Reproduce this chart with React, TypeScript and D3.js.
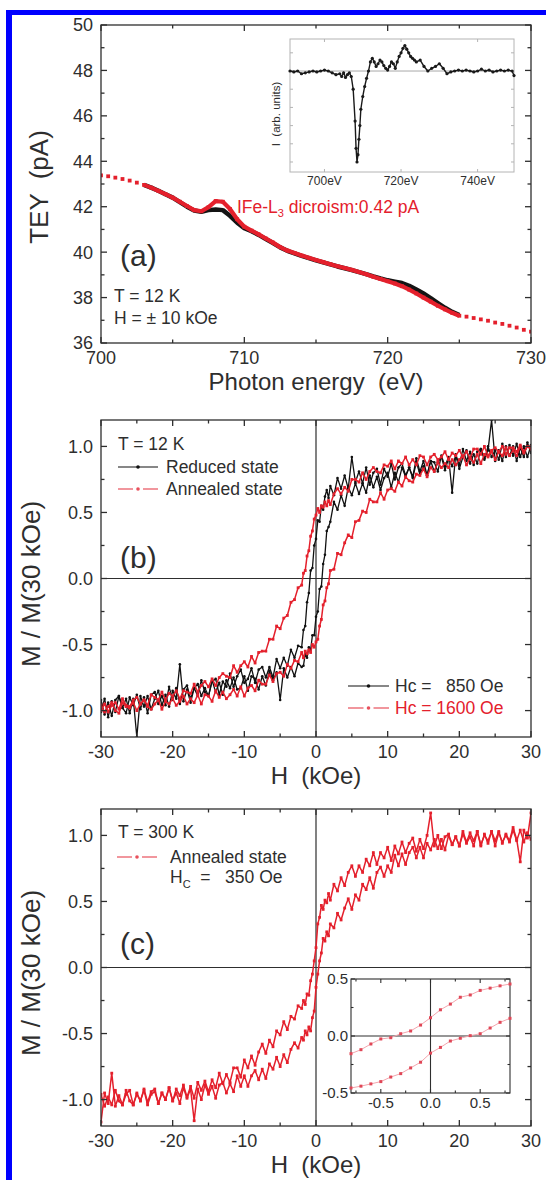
import React from 'react';
import * as d3 from 'd3';

const FONT = '"Liberation Sans", Arial, Helvetica, sans-serif';
const INK = '#2e2e2e';
const RED = '#e4202c';

// ---- panel (a): TEY vs photon energy ----
const energyRed = [700,700.5,701,701.5,702,702.5,703,703.5,704,704.5,705,705.5,706,706.5,707,707.5,708,708.5,709,709.5,710,710.5,711,711.5,712,712.5,713,713.5,714,714.5,715,715.5,716,716.5,717,717.5,718,718.5,719,719.5,720,720.5,721,721.5,722,722.5,723,723.5,724,724.5,725,725.5,726,726.5,727,727.5,728,728.5,729,729.5,730];
const teyRed = [43.38,43.34,43.28,43.22,43.15,43.06,42.96,42.84,42.7,42.55,42.4,42.22,42.03,41.85,41.8,41.98,42.25,42.22,41.9,41.45,41.12,40.95,40.78,40.6,40.42,40.22,40.07,39.96,39.85,39.75,39.65,39.56,39.47,39.38,39.3,39.22,39.13,39.03,38.92,38.82,38.72,38.62,38.5,38.35,38.18,38.0,37.82,37.64,37.48,37.33,37.2,37.16,37.1,37.04,36.98,36.9,36.84,36.76,36.68,36.58,36.5];
const energyBlack = [703,703.5,704,704.5,705,705.5,706,706.5,707,707.5,708,708.5,709,709.5,710,710.5,711,711.5,712,712.5,713,713.5,714,714.5,715,715.5,716,716.5,717,717.5,718,718.5,719,719.5,720,720.5,721,721.5,722,722.5,723,723.5,724,724.5,725];
const teyBlack = [42.96,42.84,42.7,42.55,42.4,42.2,42.0,41.83,41.78,41.85,41.88,41.85,41.6,41.3,41.05,40.92,40.76,40.58,40.4,40.21,40.06,39.95,39.84,39.74,39.64,39.55,39.46,39.37,39.29,39.21,39.12,39.03,38.93,38.84,38.76,38.7,38.64,38.52,38.36,38.18,37.98,37.76,37.55,37.37,37.23];

// inset of (a): dichroism difference
const insetEnergy = [691,692,693,694,695,696,697,698,699,700,701,702,703,704,704.5,705,705.5,706,706.5,707,707.5,708,708.25,708.5,708.75,709,709.25,709.5,710,710.5,711,711.5,712,712.5,713,713.5,714,714.5,715,715.5,716,716.5,717,717.5,718,718.5,719,719.5,720,720.5,721,721.5,722,722.5,723,723.5,724,725,726,727,728,729,730,731,732,733,734,735,736,737,738,739,740,741,742,743,744,745,746,747,748,749,749.5];
const insetSignal = [0,-0.01,0,-0.03,-0.02,-0.01,0,-0.01,0,0.01,0,-0.02,-0.04,-0.03,-0.06,-0.02,-0.07,-0.04,-0.02,-0.06,-0.2,-0.55,-0.85,-1,-0.92,-0.75,-0.6,-0.42,-0.28,-0.17,-0.08,0,0.1,0.14,0.1,0.05,0.08,0.12,0.1,0.06,0.03,0.01,0.05,0.1,0.08,0.03,0.1,0.16,0.2,0.25,0.28,0.24,0.2,0.16,0.14,0.12,0.1,0.12,0.05,0,0.03,0.05,0.08,0.03,-0.03,-0.01,0,0.01,0,0.01,0,-0.01,0,0.02,0,0.01,-0.01,0,0.01,0,0.01,0,-0.05];
const insetEnergyTicks = [700, 720, 740];

// ---- panels (b), (c): hysteresis loops, field in kOe ----
const field = [-30,-29.5,-29,-28.5,-28,-27.5,-27,-26.5,-26,-25.5,-25,-24.5,-24,-23.5,-23,-22.5,-22,-21.5,-21,-20.5,-20,-19.5,-19,-18.5,-18,-17.5,-17,-16.5,-16,-15.5,-15,-14.5,-14,-13.5,-13,-12.5,-12,-11.5,-11,-10.5,-10,-9.5,-9,-8.5,-8,-7.5,-7,-6.5,-6,-5.5,-5,-4.5,-4,-3.5,-3,-2.5,-2,-1.75,-1.5,-1.25,-1,-0.75,-0.5,-0.25,0,0.25,0.5,0.75,1,1.25,1.5,1.75,2,2.5,3,3.5,4,4.5,5,5.5,6,6.5,7,7.5,8,8.5,9,9.5,10,10.5,11,11.5,12,12.5,13,13.5,14,14.5,15,15.5,16,16.5,17,17.5,18,18.5,19,19.5,20,20.5,21,21.5,22,22.5,23,23.5,24,24.5,25,25.5,26,26.5,27,27.5,28,28.5,29,29.5,30];

const reducedDown = [-0.92,-1.03,-0.94,-1.04,-0.92,-0.89,-0.98,-1.02,-0.9,-0.96,-0.88,-0.99,-0.9,-1.02,-0.88,-0.86,-0.95,-0.89,-0.96,-0.82,-0.92,-0.83,-0.95,-0.84,-0.81,-0.91,-0.83,-0.89,-0.77,-0.86,-0.89,-0.78,-0.76,-0.88,-0.78,-0.82,-0.72,-0.82,-0.74,-0.69,-0.79,-0.76,-0.68,-0.79,-0.69,-0.67,-0.75,-0.67,-0.75,-0.61,-0.68,-0.6,-0.66,-0.54,-0.6,-0.51,-0.52,
  -0.39,-0.36,-0.18,-0.11,0.06,0.08,0.25,0.3,0.44,0.43,0.55,0.52,0.62,0.67,0.61,
  0.7,0.63,0.76,0.68,0.78,0.68,0.92,0.73,0.81,0.72,0.84,0.71,0.8,0.83,0.71,0.83,0.77,0.87,0.75,0.84,0.87,0.78,0.84,0.77,0.91,0.81,0.89,0.78,0.89,0.88,0.81,0.93,0.85,0.92,0.65,0.94,0.86,0.98,0.89,0.96,0.86,0.96,0.98,0.9,1.0,0.92,0.97,0.9,1.02,0.92,1.01,0.93,1.02,0.92,1.0,0.92,1.01];
const reducedUp = [-1.01,-0.91,-1.05,-0.93,-1.01,-0.89,-0.98,-0.91,-1.02,-0.91,-1.2,-0.89,-0.97,-0.89,-0.99,-0.91,-0.85,-0.96,-0.88,-0.97,-0.85,-0.91,-0.65,-0.93,-0.84,-0.94,-0.83,-0.8,-0.89,-0.83,-0.89,-0.77,-0.86,-0.79,-0.88,-0.77,-0.83,-0.75,-0.84,-0.83,-0.74,-0.85,-0.74,-0.76,-0.84,-0.74,-0.81,-0.7,-0.77,-0.71,-0.92,-0.68,-0.75,-0.67,-0.74,-0.64,-0.67,
  -0.66,-0.57,-0.6,-0.52,-0.54,-0.43,-0.43,-0.29,-0.25,-0.08,-0.06,0.11,0.18,0.36,0.39,
  0.43,0.58,0.52,0.63,0.55,0.69,0.63,0.72,0.64,0.72,0.65,0.78,0.69,0.77,0.67,0.76,0.8,0.69,0.8,0.73,0.84,0.77,0.84,0.76,0.88,0.79,0.85,0.78,0.89,0.81,0.88,0.92,0.82,0.91,0.85,0.93,0.83,0.92,0.97,0.87,0.94,0.87,0.98,0.91,0.97,1.2,0.89,0.97,0.89,1.0,0.93,1.0,0.89,0.99,0.92,1.03,0.95];
const annealedDown12K = [-1.0,-0.95,-1.01,-0.96,-0.94,-0.99,-0.91,-0.96,-0.97,-0.92,-0.9,-0.95,-0.92,-0.96,-0.88,-0.9,-0.92,-0.86,-0.92,-0.87,-0.89,-0.85,-0.91,-0.85,-0.86,-0.87,-0.8,-0.86,-0.81,-0.78,-0.82,-0.76,-0.81,-0.75,-0.72,-0.74,-0.75,-0.66,-0.71,-0.66,-0.63,-0.67,-0.59,-0.64,-0.56,-0.55,-0.55,-0.46,-0.46,-0.36,-0.38,-0.3,-0.28,-0.18,-0.16,-0.07,-0.05,
  0.04,0.06,0.17,0.21,0.32,0.36,0.45,0.48,0.53,0.5,0.55,0.54,0.58,0.55,0.59,
  0.56,0.64,0.68,0.64,0.69,0.66,0.75,0.75,0.73,0.8,0.75,0.81,0.84,0.81,0.8,0.86,0.85,0.89,0.83,0.89,0.87,0.92,0.86,0.9,0.86,0.93,0.92,0.86,0.92,0.94,0.9,0.92,0.96,0.9,0.95,0.93,0.97,0.92,0.96,0.91,0.98,0.98,0.94,1.0,0.93,0.97,0.99,0.96,1.0,0.94,0.99,0.99,0.96,1.01,0.96,1.0,1.0];
const annealedUp12K = [-0.96,-1.01,-0.97,-0.94,-1.0,-1.02,-0.94,-0.97,-0.98,-0.94,-1.0,-0.95,-0.92,-0.97,-0.99,-0.95,-0.92,-0.99,-0.93,-0.95,-0.91,-0.96,-0.93,-0.89,-0.95,-0.91,-0.94,-0.88,-0.95,-0.88,-0.89,-0.93,-0.85,-0.9,-0.86,-0.91,-0.88,-0.84,-0.89,-0.82,-0.89,-0.83,-0.81,-0.85,-0.77,-0.8,-0.8,-0.73,-0.78,-0.72,-0.71,-0.74,-0.65,-0.68,-0.62,-0.63,-0.56,
  -0.6,-0.55,-0.57,-0.54,-0.56,-0.5,-0.52,-0.48,-0.46,-0.36,-0.31,-0.2,-0.17,-0.07,-0.04,
  0.06,0.07,0.19,0.18,0.27,0.33,0.31,0.43,0.44,0.51,0.5,0.6,0.58,0.58,0.65,0.6,0.67,0.68,0.66,0.73,0.7,0.77,0.74,0.73,0.79,0.78,0.83,0.77,0.84,0.81,0.88,0.84,0.87,0.84,0.9,0.86,0.9,0.93,0.86,0.91,0.88,0.94,0.87,0.94,0.92,0.96,0.9,0.96,0.93,0.99,0.93,0.97,0.93,1.0,0.95,1.0,0.98];
const annealedDown300K = [-0.96,-1.05,-0.98,-1.04,-0.93,-1.01,-1.04,-0.96,-0.93,-1.04,-0.96,-1.01,-0.92,-1.02,-0.94,-0.92,-1.03,-0.95,-1.0,-0.91,-1.01,-0.92,-0.97,-0.89,-0.98,-0.9,-0.99,-0.87,-0.93,-0.86,-0.94,-0.85,-0.91,-0.8,-0.88,-0.81,-0.87,-0.76,-0.76,-0.83,-0.7,-0.76,-0.67,-0.74,-0.64,-0.58,-0.65,-0.55,-0.6,-0.48,-0.51,-0.41,-0.47,-0.37,-0.39,-0.29,-0.31,
  -0.25,-0.28,-0.2,-0.21,-0.1,-0.05,0.05,0.15,0.33,0.38,0.47,0.44,0.51,0.49,0.56,
  0.51,0.63,0.58,0.68,0.62,0.72,0.77,0.69,0.77,0.72,0.82,0.77,0.87,0.78,0.87,0.83,0.91,0.81,0.92,0.86,0.95,0.87,0.94,0.98,0.88,0.97,0.9,1.0,1.17,0.92,1.0,0.9,0.99,1.01,0.93,0.99,0.92,1.03,0.95,1.02,0.96,1.03,0.92,1.01,0.94,1.03,0.96,1.03,0.94,1.01,0.96,1.06,0.97,0.8,1.04,0.98,1.17];
const annealedUp300K = [-1.17,-0.95,-1.03,-0.8,-1.05,-0.97,-1.04,-0.93,-1.01,-1.04,-0.95,-1.01,-0.93,-1.04,-0.96,-0.94,-1.03,-0.95,-1.0,-0.91,-1.01,-0.95,-1.03,-0.91,-0.99,-0.92,-1.16,-0.92,-1.0,-0.89,-0.96,-0.9,-0.99,-0.89,-0.87,-0.95,-0.88,-0.94,-0.82,-0.9,-0.82,-0.9,-0.82,-0.78,-0.85,-0.77,-0.84,-0.73,-0.77,-0.68,-0.75,-0.66,-0.72,-0.62,-0.57,-0.61,-0.53,
  -0.55,-0.48,-0.51,-0.45,-0.48,-0.38,-0.33,-0.15,-0.05,0.05,0.11,0.22,0.2,0.27,0.24,
  0.33,0.3,0.41,0.36,0.45,0.52,0.44,0.55,0.51,0.63,0.59,0.68,0.6,0.72,0.76,0.69,0.77,0.72,0.85,0.77,0.86,0.78,0.87,0.91,0.83,0.91,0.83,0.94,0.89,0.97,0.9,0.97,0.89,1.0,0.93,0.99,0.92,1.01,0.94,0.99,0.92,1.03,0.93,1.0,0.96,1.03,0.92,1.02,0.95,1.0,0.95,1.04,0.96,1.04,0.95,1.02,0.97];

// inset of (c): low-field zoom
const insetField = [-0.8,-0.7,-0.6,-0.5,-0.4,-0.3,-0.2,-0.1,0,0.1,0.2,0.3,0.4,0.5,0.6,0.7,0.8];
const insetDown = [-0.155,-0.12,-0.07,-0.026,-0.015,0.02,0.044,0.096,0.16,0.23,0.28,0.34,0.36,0.4,0.42,0.44,0.456];
const insetUp = [-0.456,-0.44,-0.42,-0.4,-0.36,-0.33,-0.28,-0.23,-0.15,-0.1,-0.044,-0.02,0.003,0.02,0.07,0.12,0.155];

const fieldMajor = [-30, -20, -10, 0, 10, 20, 30];
const fieldMinor = [-25, -15, -5, 5, 15, 25];
const mMajor = [-1, -0.5, 0, 0.5, 1];
const mMinor = [-0.75, -0.25, 0.25, 0.75];

type Lin = d3.ScaleLinear<number, number>;

const path = (xs: number[], ys: number[], sx: Lin, sy: Lin) =>
  d3.line<number>().x((_, i) => sx(xs[i])).y((d) => sy(d))(ys) || '';

function Frame(props: {
  x: Lin; y: Lin; xMajor: number[]; xMinor?: number[]; yMajor: number[]; yMinor?: number[];
  fmtX?: (v: number) => string; fmtY?: (v: number) => string; color?: string; tickColor?: string;
  major?: number; minor?: number; font?: number; xOff?: number; yOff?: number; sw?: number; fill?: string;
}) {
  const { x, y, xMajor, xMinor = [], yMajor, yMinor = [], fmtX, fmtY, color = INK, tickColor = INK,
    major = 6, minor = 3.5, font = 18, xOff = 21, yOff = 8, sw = 1.3, fill = 'none' } = props;
  const [l, r] = x.range();
  const [b, t] = y.range();
  const xt = (v: number, len: number, k: string) => (
    <g key={k} stroke={tickColor} strokeWidth={sw}>
      <line x1={x(v)} x2={x(v)} y1={b} y2={b - len} />
      <line x1={x(v)} x2={x(v)} y1={t} y2={t + len} />
    </g>
  );
  const yt = (v: number, len: number, k: string) => (
    <g key={k} stroke={tickColor} strokeWidth={sw}>
      <line x1={l} x2={l + len} y1={y(v)} y2={y(v)} />
      <line x1={r} x2={r - len} y1={y(v)} y2={y(v)} />
    </g>
  );
  return (
    <g>
      <rect x={l} y={t} width={r - l} height={b - t} fill={fill} stroke={color} strokeWidth={sw} />
      {xMajor.map((v) => xt(v, major, 'xM' + v))}
      {xMinor.map((v) => xt(v, minor, 'xm' + v))}
      {yMajor.map((v) => yt(v, major, 'yM' + v))}
      {yMinor.map((v) => yt(v, minor, 'ym' + v))}
      {fmtX && xMajor.map((v) => (
        <text key={'xl' + v} x={x(v)} y={b + xOff} textAnchor="middle" fontSize={font} fill={INK}>{fmtX(v)}</text>
      ))}
      {fmtY && yMajor.map((v) => (
        <text key={'yl' + v} x={l - yOff} y={y(v)} dy="0.36em" textAnchor="end" fontSize={font} fill={INK}>{fmtY(v)}</text>
      ))}
    </g>
  );
}

function Markers({ xs, ys, sx, sy, color, size, round }: { xs: number[]; ys: number[]; sx: Lin; sy: Lin; color: string; size: number; round?: boolean }) {
  return (
    <g fill={color}>
      {ys.map((v, i) => round
        ? <circle key={i} cx={sx(xs[i])} cy={sy(v)} r={size / 2} />
        : <rect key={i} x={sx(xs[i]) - size / 2} y={sy(v) - size / 2} width={size} height={size} />)}
    </g>
  );
}

function LegendLine({ x1, x2, y, color, dashed }: { x1: number; x2: number; y: number; color: string; dashed?: boolean }) {
  const mid = (x1 + x2) / 2;
  return (
    <g stroke={color} strokeWidth={1.2}>
      {dashed ? (
        <>
          <line x1={x1} x2={mid - 5} y1={y} y2={y} />
          <line x1={mid + 5} x2={x2} y1={y} y2={y} />
        </>
      ) : <line x1={x1} x2={x2} y1={y} y2={y} />}
      <circle cx={mid} cy={y} r={1.8} fill={color} stroke="none" />
    </g>
  );
}

const f1 = (v: number) => v.toFixed(1);
const fi = (v: number) => String(v);

export default function App() {
  const xA = d3.scaleLinear().domain([700, 730]).range([101, 531]);
  const yA = d3.scaleLinear().domain([36, 50]).range([343, 25]);
  const xIA = d3.scaleLinear().domain([691, 749.5]).range([290, 514]);
  const yIA = d3.scaleLinear().domain([-1.11, 0.352]).range([172, 39]);
  const xB = d3.scaleLinear().domain([-30, 30]).range([101, 531]);
  const yB = d3.scaleLinear().domain([-1.2, 1.2]).range([737, 420]);
  const yC = d3.scaleLinear().domain([-1.2, 1.2]).range([1126, 809]);
  const xIC = d3.scaleLinear().domain([-0.8, 0.8]).range([351, 510]);
  const yIC = d3.scaleLinear().domain([-0.5, 0.5]).range([1093, 979]);

  const thickIdx = energyRed.map((e, i) => i).filter((i) => energyRed[i] >= 703 && energyRed[i] <= 725);
  const thickE = thickIdx.map((i) => energyRed[i]);
  const thickT = thickIdx.map((i) => teyRed[i]);

  const loop = (ys: number[], sy: Lin, color: string, round: boolean) => (
    <g>
      <path d={path(field, ys, xB, sy)} fill="none" stroke={color} strokeWidth={round ? 1.3 : 1.5} strokeLinejoin="round" />
      <Markers xs={field} ys={ys} sx={xB} sy={sy} color={color} size={round ? 2.6 : 2.8} round={round} />
    </g>
  );

  return (
    <svg width={546} height={1180} style={{ position: 'absolute', left: 0, top: 0, background: '#fff' }} fontFamily={FONT}>
      <defs>
        <clipPath id="clipA"><rect x={101} y={25} width={430} height={318} /></clipPath>
        <clipPath id="clipB"><rect x={101} y={420} width={430} height={317} /></clipPath>
        <clipPath id="clipC"><rect x={101} y={809} width={430} height={317} /></clipPath>
      </defs>
      <rect x={0} y={0} width={546} height={1180} fill="#fff" />
      <rect x={6} y={10} width={540} height={5} fill="#0000ff" />
      <rect x={6} y={10} width={6} height={1170} fill="#0000ff" />

      {/* ---------- (a) ---------- */}
      <g clipPath="url(#clipA)">
        <path d={path(energyBlack, teyBlack, xA, yA)} fill="none" stroke="#141414" strokeWidth={4.5} strokeLinejoin="round" />
        <path d={path(thickE, thickT, xA, yA)} fill="none" stroke={RED} strokeWidth={4.2} strokeLinejoin="round" />
        <Markers xs={energyRed} ys={teyRed} sx={xA} sy={yA} color={RED} size={3.8} />
      </g>
      <Frame x={xA} y={yA} xMajor={[700, 710, 720, 730]} xMinor={[705, 715, 725]}
        yMajor={[36, 38, 40, 42, 44, 46, 48, 50]} yMinor={[37, 39, 41, 43, 45, 47, 49]} fmtX={fi} fmtY={fi} />
      <text x={316} y={390} textAnchor="middle" fontSize={24} fill={INK} style={{ whiteSpace: 'pre' }}>Photon energy  (eV)</text>
      <text transform="translate(48,187) rotate(-90)" textAnchor="middle" fontSize={26} fill={INK} style={{ whiteSpace: 'pre' }}>TEY  (pA)</text>
      <text x={120} y={266} fontSize={30} fill={INK}>(a)</text>
      <text x={114} y={302} fontSize={17.5} fill={INK}>T = 12 K</text>
      <text x={114} y={324} fontSize={17.5} fill={INK}>H = ± 10 kOe</text>
      <text x={237} y={213} fontSize={17.5} fill={RED}>
        IFe-L<tspan fontSize={11} dy={4}>3</tspan><tspan dy={-4}> dicroism:0.42 pA</tspan>
      </text>

      {/* inset (a) */}
      <Frame x={xIA} y={yIA} xMajor={insetEnergyTicks} yMajor={[-1, -0.8, -0.6, -0.4, -0.2, 0, 0.2]}
        color="#b4b4b4" tickColor="#b4b4b4" major={3} sw={1} fill="#fff"
        fmtX={(v) => v + 'eV'} font={12} xOff={13} />
      <line x1={290} x2={514} y1={yIA(0)} y2={yIA(0)} stroke="#a8a8a8" strokeWidth={1} />
      <path d={path(insetEnergy, insetSignal, xIA, yIA)} fill="none" stroke="#1a1a1a" strokeWidth={1.4} />
      <Markers xs={insetEnergy} ys={insetSignal} sx={xIA} sy={yIA} color="#1a1a1a" size={3.2} round />
      <text transform="translate(280,114) rotate(-90)" textAnchor="middle" fontSize={11.5} fill={INK} style={{ whiteSpace: 'pre' }}>I  (arb. units)</text>

      {/* ---------- (b) ---------- */}
      <g clipPath="url(#clipB)">
        <line x1={xB(0)} x2={xB(0)} y1={420} y2={737} stroke={INK} strokeWidth={1.2} />
        <line x1={101} x2={531} y1={yB(0)} y2={yB(0)} stroke={INK} strokeWidth={1.2} />
        {loop(reducedDown, yB, '#111', true)}
        {loop(reducedUp, yB, '#111', true)}
        {loop(annealedDown12K, yB, RED, false)}
        {loop(annealedUp12K, yB, RED, false)}
      </g>
      <Frame x={xB} y={yB} xMajor={fieldMajor} xMinor={fieldMinor} yMajor={mMajor} yMinor={mMinor} fmtX={fi} fmtY={f1} />
      <text x={316} y={784} textAnchor="middle" fontSize={24} fill={INK} style={{ whiteSpace: 'pre' }}>H  (kOe)</text>
      <text transform="translate(40,584) rotate(-90)" textAnchor="middle" fontSize={26} fill={INK}>M / M(30 kOe)</text>
      <text x={120} y={568} fontSize={30} fill={INK}>(b)</text>
      <text x={118} y={450} fontSize={17.5} fill={INK}>T = 12 K</text>
      <LegendLine x1={118} x2={158} y={467} color="#111" />
      <text x={166} y={473} fontSize={17.5} fill={INK}>Reduced state</text>
      <LegendLine x1={118} x2={158} y={489} color="#e8505c" dashed />
      <text x={166} y={495} fontSize={17.5} fill={INK}>Annealed state</text>
      <LegendLine x1={348} x2={389} y={686} color="#111" />
      <text x={395} y={692} fontSize={17.5} fill={INK} style={{ whiteSpace: 'pre' }}>Hc =   850 Oe</text>
      <LegendLine x1={348} x2={389} y={708} color="#e8505c" dashed />
      <text x={395} y={714} fontSize={17.5} fill={RED} style={{ whiteSpace: 'pre' }}>Hc = 1600 Oe</text>

      {/* ---------- (c) ---------- */}
      <g clipPath="url(#clipC)">
        <line x1={xB(0)} x2={xB(0)} y1={809} y2={1126} stroke={INK} strokeWidth={1.2} />
        <line x1={101} x2={531} y1={yC(0)} y2={yC(0)} stroke={INK} strokeWidth={1.2} />
        {loop(annealedDown300K, yC, RED, false)}
        {loop(annealedUp300K, yC, RED, false)}
      </g>
      <Frame x={xB} y={yC} xMajor={fieldMajor} xMinor={fieldMinor} yMajor={mMajor} yMinor={mMinor} fmtX={fi} fmtY={f1} />
      <text x={316} y={1173} textAnchor="middle" fontSize={24} fill={INK} style={{ whiteSpace: 'pre' }}>H  (kOe)</text>
      <text transform="translate(40,973) rotate(-90)" textAnchor="middle" fontSize={26} fill={INK}>M / M(30 kOe)</text>
      <text x={120} y={954} fontSize={30} fill={INK}>(c)</text>
      <text x={118} y={838} fontSize={17.5} fill={INK}>T = 300 K</text>
      <LegendLine x1={117} x2={157} y={857} color="#e8505c" dashed />
      <text x={170} y={863} fontSize={17.5} fill={INK}>Annealed state</text>
      <text x={170} y={883} fontSize={17.5} fill={INK} style={{ whiteSpace: 'pre' }}>
        H<tspan fontSize={11} dy={5}>C</tspan><tspan dy={-5}>  =   350 Oe</tspan>
      </text>

      {/* inset (c) */}
      <Frame x={xIC} y={yIC} xMajor={[-0.5, 0, 0.5]} xMinor={[-0.75, -0.25, 0.25, 0.75]}
        yMajor={[-0.5, 0, 0.5]} yMinor={[-0.25, 0.25]} major={4} minor={2.5} sw={1.1} fill="#fff"
        fmtX={f1} fmtY={f1} font={15} xOff={15} yOff={3} />
      <line x1={xIC(0)} x2={xIC(0)} y1={979} y2={1093} stroke={INK} strokeWidth={1.1} />
      <line x1={351} x2={510} y1={yIC(0)} y2={yIC(0)} stroke={INK} strokeWidth={1.1} />
      <path d={path(insetField, insetDown, xIC, yIC)} fill="none" stroke="#f4a6ae" strokeWidth={1} />
      <path d={path(insetField, insetUp, xIC, yIC)} fill="none" stroke="#f4a6ae" strokeWidth={1} />
      <Markers xs={insetField} ys={insetDown} sx={xIC} sy={yIC} color="#e04656" size={3} />
      <Markers xs={insetField} ys={insetUp} sx={xIC} sy={yIC} color="#e04656" size={3} />
    </svg>
  );
}
